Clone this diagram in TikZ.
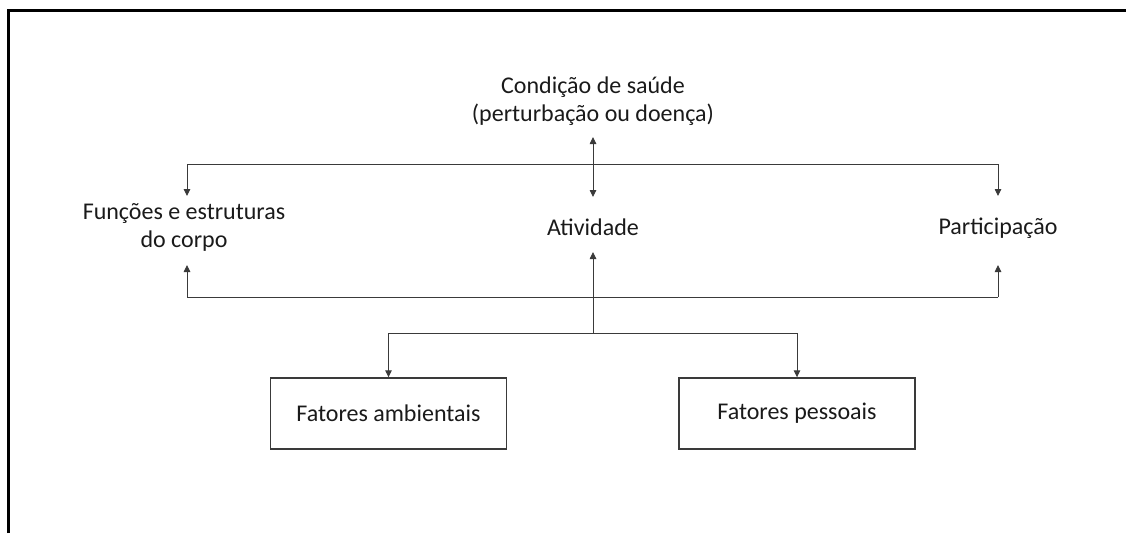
\documentclass[tikz,border=0pt]{standalone}
\usepackage{fontspec}
\setmainfont{Carlito}
\usetikzlibrary{arrows.meta}
\definecolor{linegray}{HTML}{3A3A3A}
\definecolor{textgray}{HTML}{1A1A1A}
\tikzset{
  lbl/.style={font=\fontsize{24}{28.5}\selectfont, text=textgray, align=center, inner sep=0pt},
  fbox/.style={draw=linegray, line width=1.4pt, minimum width=236pt, minimum height=71pt, inner sep=0pt,
    font=\fontsize{24}{28.5}\selectfont, text=textgray},
  conn/.style={draw=linegray, line width=0.9pt},
  arr/.style={conn, -{Triangle[length=7pt,width=6.5pt]}},
  darr/.style={conn, {Triangle[length=7pt,width=6.5pt]}-{Triangle[length=7pt,width=6.5pt]}}
}
\begin{document}
\begin{tikzpicture}[x=1pt,y=-1pt]
\useasboundingbox (0,0) rectangle (1126,533);
% frame
\draw[line width=3pt, black] (8.5,533) -- (8.5,10.5) -- (1126,10.5);
% nodes
\node[lbl] (cond) at (593,101) {Condição de saúde\\(perturbação ou doença)};
\node[lbl] (func) at (184,227.5) {Funções e estruturas\\do corpo};
\node[lbl] (atv) at (593,227) {Atividade};
\node[lbl] (part) at (998,228) {Participação};
\node[fbox] (amb) at (388.5,413.5) {Fatores ambientais};
\node[fbox] (pes) at (797,413.5) {Fatores pessoais};
% junction coordinates
\coordinate (c1) at (593,137);
\coordinate (a1) at (593,197);
\coordinate (a2) at (593,252);
\coordinate (f1) at (187,196);
\coordinate (f2) at (187,265);
\coordinate (p1) at (998,196);
\coordinate (p2) at (998,265);
\coordinate (tl) at (187,164);
\coordinate (tr) at (998,164);
\coordinate (bl) at (187,297);
\coordinate (br) at (998,297);
\coordinate (j) at (593,333);
% connectors
\draw[darr] (c1) -- (a1);
\draw[conn] (tl) -- (tr);
\draw[arr] (tl) -- (f1);
\draw[arr] (tr) -- (p1);
\draw[conn] (bl) -- (br);
\draw[arr] (bl) -- (f2);
\draw[arr] (br) -- (p2);
\draw[arr] (j) -- (a2);
\draw[arr] (j) -| (amb.north);
\draw[arr] (j) -| (pes.north);
\end{tikzpicture}
\end{document}
